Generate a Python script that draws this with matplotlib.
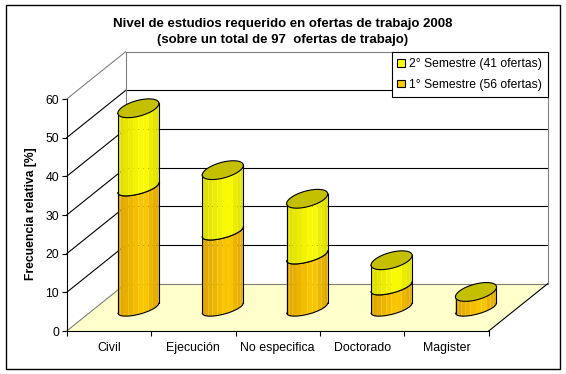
import numpy as np
import matplotlib
matplotlib.use("Agg")
import matplotlib.pyplot as plt
from matplotlib.patches import Patch, Polygon, Rectangle

plt.rcParams['font.family'] = ['Liberation Sans', 'DejaVu Sans']

# Data
categorias = ["Civil", "Ejecución", "No especifica", "Doctorado", "Magister"]
semestre_1 = [31.1, 19.7, 13.5, 5.5, 4.2]
semestre_2 = [20.6, 16.0, 14.8, 6.9, 0.0]
ticks_y = [0, 10, 20, 30, 40, 50, 60]
leyendas = ["1° Semestre (56 ofertas)", "2° Semestre (41 ofertas)"]

W, H = 566, 374
fig = plt.figure(figsize=(W / 100, H / 100), dpi=100, facecolor="white")

# Front plane of the 3D box, in pixels
x0, x1, y_bas, y_haut = 66.7, 488.7, 331.0, 99.0
ax = fig.add_axes([x0 / W, 1 - y_bas / H, (x1 - x0) / W, (y_bas - y_haut) / H])
ax.set_xlim(0, 5)
ax.set_ylim(0, 60)
ax.patch.set_visible(False)

# Depth offset of the box, in data units
DX = 59.0 / 84.4
DY = 47.3 / 3.867
BASE = 5.9

# Cylinder ellipses, in data units: the top cap is rounder than the side arcs
CAP = (17.6 / 84.4, 10.6 / 84.4, 9.4 / 3.867)
ARC = (16.0 / 84.4, 12.8 / 84.4, 8.0 / 3.867)


def ellipse(cx, cy, t, forme):
    a, b, c = forme
    return cx + a * np.cos(t) + b * np.sin(t), cy + c * np.sin(t)


def couleur_bande(f, fonce, clair):
    # dark on the sides, bright a bit to the right of the middle
    k = f / 0.62 if f < 0.62 else (1 - f) / 0.38
    k = np.floor(k * 5) / 5
    fonce = np.array(fonce)
    clair = np.array(clair)
    return tuple((fonce + (clair - fonce) * k) / 255)


def segment(cx, v0, v1, fonce, clair, z):
    # side of one cylinder piece, made of vertical colour bands
    a, b, c = ARC
    r = np.hypot(a, b)
    t_d = np.arctan2(b, a)
    t = np.linspace(t_d + np.pi, t_d + 2 * np.pi, 13)
    xs, ys = ellipse(cx, 0, t, ARC)
    for i in range(len(t) - 1):
        f = ((xs[i] + xs[i + 1]) / 2 - (cx - r)) / (2 * r)
        pts = [(xs[i], v0 + ys[i]), (xs[i + 1], v0 + ys[i + 1]),
               (xs[i + 1], v1 + ys[i + 1]), (xs[i], v1 + ys[i])]
        ax.add_patch(Polygon(pts, closed=True, fc=couleur_bande(f, fonce, clair),
                             ec="none", zorder=z, clip_on=False))
    # outline
    ax.plot(xs, v0 + ys, color="black", lw=0.8, zorder=z + 0.1, clip_on=False)
    ax.plot(xs, v1 + ys, color="black", lw=0.8, zorder=z + 0.1, clip_on=False)
    ax.plot([xs[0], xs[0]], [v0 + ys[0], v1 + ys[0]], color="black", lw=0.8, zorder=z + 0.1, clip_on=False)
    ax.plot([xs[-1], xs[-1]], [v0 + ys[-1], v1 + ys[-1]], color="black", lw=0.8, zorder=z + 0.1, clip_on=False)


# Outer border of the chart
fig.add_artist(Rectangle((5.5 / W, 1 - 368.7 / H), 554.2 / W, 363.7 / H, transform=fig.transFigure,
                         fc="white", ec="black", lw=1.0, zorder=-5))

# Floor
ax.add_patch(Polygon([(0, 0), (5, 0), (5 + DX, DY), (DX, DY)], closed=True,
                     fc="#FFFFCC", ec="none", zorder=1, clip_on=False))

# Grid on the back wall and on the side wall
for v in ticks_y:
    c = "#808080" if v in (0, 60) else "black"
    ax.plot([DX, 5 + DX], [v + DY, v + DY], color=c, lw=0.8, zorder=2, clip_on=False)
    ax.plot([0, DX], [v, v + DY], color=c, lw=0.8, zorder=2, clip_on=False)
ax.plot([DX, DX], [DY, 60 + DY], color="#808080", lw=0.8, zorder=2, clip_on=False)
ax.plot([5 + DX, 5 + DX], [DY, 60 + DY], color="#808080", lw=0.8, zorder=2, clip_on=False)
ax.plot([5, 5 + DX], [0, DY], color="black", lw=0.8, zorder=2, clip_on=False)

# Cylinders, left to right
for i in range(len(categorias)):
    cx = i + 0.5 + DX / 2
    haut_1 = BASE + semestre_1[i]
    haut_2 = haut_1 + semestre_2[i]
    z = 5 + i
    segment(cx, BASE, haut_1, (224, 168, 0), (255, 204, 0), z)
    if semestre_2[i] > 0:
        segment(cx, haut_1, haut_2, (224, 224, 0), (255, 255, 0), z + 0.2)
    t = np.linspace(0, 2 * np.pi, 80)
    ex, ey = ellipse(cx, haut_2, t, CAP)
    ax.add_patch(Polygon(np.column_stack([ex, ey]), closed=True, fc="#C4C000", ec="black",
                         lw=0.8, zorder=z + 0.4, clip_on=False))

# Axes
for s in ("top", "right"):
    ax.spines[s].set_visible(False)
for s in ("left", "bottom"):
    ax.spines[s].set_linewidth(0.8)
    ax.spines[s].set_zorder(20)
ax.set_yticks(ticks_y)
ax.set_xticks(range(6))
ax.set_xticklabels([])
ax.tick_params(axis="y", length=3.5, width=0.8, labelsize=8.8, pad=2)
ax.tick_params(axis="x", length=3.5, width=0.8)
for i, nom in enumerate(categorias):
    ax.annotate(nom, (i + 0.5, 0), xytext=(0, -12.3), textcoords="offset points",
                ha="center", va="center", fontsize=8.9, annotation_clip=False)

# Title and y label
fig.text(282.5 / W, 1 - 23.5 / H, "Nivel de estudios requerido en ofertas de trabajo 2008",
         ha="center", va="center", fontsize=9.55, fontweight="bold")
fig.text(283 / W, 1 - 40.5 / H, "(sobre un total de 97  ofertas de trabajo)",
         ha="center", va="center", fontsize=9.55, fontweight="bold")
fig.text(31 / W, 1 - 214 / H, "Frecuencia relativa [%]", rotation=90,
         ha="center", va="center", fontsize=8.7, fontweight="bold")

# Legend, 2nd semester on top
poignees = [Patch(fc="#FFFF00", ec="black", lw=0.8), Patch(fc="#FFCC00", ec="black", lw=0.8)]
leg = fig.legend(poignees, leyendas[::-1], loc="upper right", bbox_to_anchor=(547.5 / W, 1 - 52.3 / H),
                 fontsize=8.7, frameon=True, fancybox=False, framealpha=1, edgecolor="black",
                 borderaxespad=0, handlelength=0.6, handleheight=0.6, handletextpad=0.35,
                 labelspacing=0.72, borderpad=0.48)
leg.get_frame().set_linewidth(0.8)
leg.set_zorder(30)

fig.savefig("out.png", dpi=100)
